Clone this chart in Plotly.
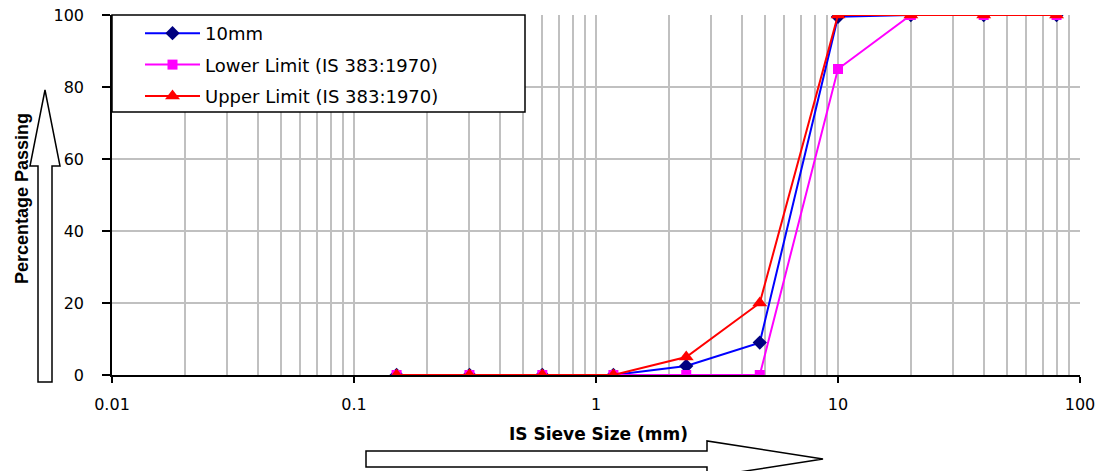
import plotly.graph_objects as go

sieve = [0.15, 0.3, 0.6, 1.18, 2.36, 4.75, 10, 20, 40, 80]
s10mm = [0, 0, 0, 0, 2.5, 9, 99.5, 100, 100, 100]
lower = [0, 0, 0, 0, 0, 0, 85, 100, 100, 100]
upper = [0, 0, 0, 0, 5, 20, 100, 100, 100, 100]
x_ticks = [0.01, 0.1, 1, 10, 100]
x_ticktext = ["0.01", "0.1", "1", "10", "100"]
y_ticks = [0, 20, 40, 60, 80, 100]

W, H = 1109, 471
L, R, T, B = 112, 29, 15, 96
PW, PH = W - L - R, H - T - B

def px(x):
    return (x - L) / PW

def py(y):
    return (H - B - y) / PH

FONT = "DejaVu Sans, Liberation Sans, Arial, sans-serif"
FONT2 = "Liberation Sans, Arial, sans-serif"

fig = go.Figure()
fig.add_trace(go.Scatter(x=sieve, y=s10mm, name="10mm", mode="lines+markers",
                         line=dict(color="#0000FF", width=2),
                         marker=dict(symbol="diamond", size=11, color="#000080"),
                         legendgroup="a"))
fig.add_trace(go.Scatter(x=sieve, y=lower, name="Lower Limit (IS 383:1970)", mode="lines+markers",
                         line=dict(color="#FF00FF", width=2),
                         marker=dict(symbol="square", size=10, color="#FF00FF"),
                         legendgroup="b"))
fig.add_trace(go.Scatter(x=sieve, y=upper, name="Upper Limit (IS 383:1970)", mode="lines+markers",
                         line=dict(color="#FF0000", width=2),
                         marker=dict(symbol="triangle-up", size=13, color="#FF0000"),
                         legendgroup="c"))

minor_vals = []
for d in [0.01, 0.1, 1, 10]:
    for k in range(2, 10):
        minor_vals.append(d * k)

fig.update_xaxes(type="log", range=[-2, 2], tickvals=x_ticks, ticktext=x_ticktext,
                 showgrid=True, gridcolor="#C0C0C0", gridwidth=1.5,
                 showline=True, linecolor="black", linewidth=1.5,
                 ticks="outside", ticklen=6, tickcolor="black", tickwidth=1.5,
                 ticklabelstandoff=8,
                 tickfont=dict(family=FONT, size=16, color="black"),
                 minor=dict(tickvals=minor_vals, showgrid=True, gridcolor="#C0C0C0", gridwidth=1.5, ticks=""),
                 zeroline=False, mirror=False, automargin=False)
fig.update_yaxes(range=[0, 100], tickvals=y_ticks,
                 showgrid=True, gridcolor="#C0C0C0", gridwidth=1.5,
                 showline=True, linecolor="black", linewidth=1.5,
                 ticks="outside", ticklen=8, tickcolor="black", tickwidth=1.5,
                 ticklabelstandoff=15,
                 tickfont=dict(family=FONT, size=16, color="black"),
                 zeroline=False, automargin=False)

fig.add_annotation(text="<b>IS Sieve Size (mm)</b>", xref="paper", yref="paper",
                   x=px(598), y=py(434), xanchor="center", yanchor="middle", showarrow=False,
                   font=dict(family=FONT, size=17, color="black"))
fig.add_annotation(text="<b>Percentage Passing</b>", xref="paper", yref="paper",
                   x=px(22), y=py(199), xanchor="center", yanchor="middle",
                   showarrow=False, textangle=-90,
                   font=dict(family=FONT2, size=18, color="black"))

vpath = ("M {a},{b} L {c},{b} L {c},{d} L {e},{d} L {f},{g} L {h},{d} L {i},{d} Z").format(
    a=px(38), b=py(382), c=px(52), d=py(166), e=px(60), f=px(45), g=py(90), h=px(30), i=px(38))
hpath = ("M {a},{b} L {c},{b} L {c},{d} L {e},{f} L {c},{g} L {c},{h} L {a},{h} Z").format(
    a=px(366), b=py(451), c=px(707), d=py(441), e=px(823), f=py(459), g=py(477), h=py(467))
fig.add_shape(type="path", path=vpath, xref="paper", yref="paper",
              line=dict(color="black", width=1.5), fillcolor="white")
fig.add_shape(type="path", path=hpath, xref="paper", yref="paper",
              line=dict(color="black", width=1.5), fillcolor="white")
# legend frame
fig.add_shape(type="rect", xref="paper", yref="paper",
              x0=px(112), x1=px(525), y0=py(112), y1=py(15),
              line=dict(color="black", width=1.5), fillcolor="white", layer="above")

fig.update_layout(
    width=W, height=H,
    margin=dict(l=L, r=R, t=T, b=B, autoexpand=False),
    paper_bgcolor="white", plot_bgcolor="white",
    showlegend=True,
    legend=dict(x=px(140), y=py(15), xanchor="left", yanchor="top",
                bgcolor="rgba(0,0,0,0)", borderwidth=0,
                font=dict(family=FONT, size=18, color="black"),
                tracegroupgap=5, itemwidth=55),
    font=dict(family=FONT),
)

fig.write_html("out.html")
